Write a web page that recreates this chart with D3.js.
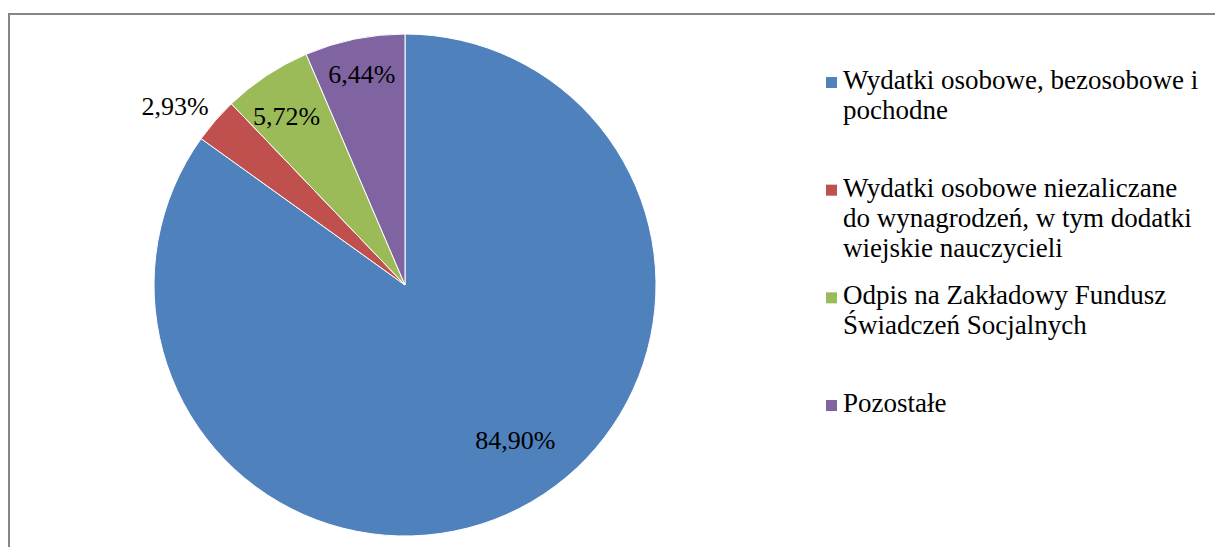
<!DOCTYPE html>
<html>
<head>
<meta charset="utf-8">
<script src="https://cdnjs.cloudflare.com/ajax/libs/d3/7.8.5/d3.min.js"></script>
<style>
  body { margin: 0; background: #fff; }
  svg { display: block; }
</style>
</head>
<body>
<svg width="1215" height="547"></svg>
<script>
// chart data
let categories = [
  ["Wydatki osobowe, bezosobowe i", "pochodne"],
  ["Wydatki osobowe niezaliczane", "do wynagrodzeń, w tym dodatki", "wiejskie nauczycieli"],
  ["Odpis na Zakładowy Fundusz", "Świadczeń Socjalnych"],
  ["Pozostałe"]
];
let values = [84.90, 2.93, 5.72, 6.44];
let labels = ["84,90%", "2,93%", "5,72%", "6,44%"];
let colors = ["#4F81BD", "#C0504D", "#9BBB59", "#8064A2"];

// where each label sits: radius factor and angle shift (radians), like excel's best fit
let labelRadius = [0.76, 1.16, 0.82, 0.857];
let labelShift = [-0.143, -0.054, -0.028, 0];

var svg = d3.select("svg"),
    width = +svg.attr("width"),
    height = +svg.attr("height");

let font = "'Liberation Serif', 'Times New Roman', serif";

// chart frame
svg.append("rect")
    .attr("x", 9)
    .attr("y", 14)
    .attr("width", width)
    .attr("height", height)
    .attr("fill", "none")
    .attr("stroke", "#868686")
    .attr("stroke-width", 2);

let cx = 405, cy = 285, radius = 251;

let pie = d3.pie().sort(null).value(d => d);
let arcs = pie(values);
let arc = d3.arc().innerRadius(0).outerRadius(radius);

let g = svg.append("g").attr("transform", "translate(" + cx + "," + cy + ")");

g.selectAll("path")
    .data(arcs)
    .enter().append("path")
    .attr("d", arc)
    .attr("fill", (d, i) => colors[i])
    .attr("stroke", "#fff")
    .attr("stroke-width", 1);

// percentage labels
g.selectAll("text")
    .data(arcs)
    .enter().append("text")
    .attr("x", (d, i) => {
      let a = (d.startAngle + d.endAngle) / 2 + labelShift[i];
      return Math.sin(a) * radius * labelRadius[i];
    })
    .attr("y", (d, i) => {
      let a = (d.startAngle + d.endAngle) / 2 + labelShift[i];
      return -Math.cos(a) * radius * labelRadius[i];
    })
    .attr("dy", "0.33em")
    .attr("text-anchor", "middle")
    .style("font-family", font)
    .style("font-size", "26px")
    .attr("fill", "#000")
    .text((d, i) => labels[i]);

// legend
let legendY = d3.scaleLinear().domain([0, 3]).range([89, 412]);

let legend = svg.append("g")
    .selectAll("g")
    .data(categories)
    .enter().append("g")
    .attr("transform", (d, i) => "translate(826," + legendY(i) + ")");

legend.append("rect")
    .attr("x", 0)
    .attr("y", -12)
    .attr("width", 11)
    .attr("height", 11)
    .attr("fill", (d, i) => colors[i]);

legend.append("text")
    .style("font-family", font)
    .style("font-size", "27px")
    .attr("fill", "#000")
    .selectAll("tspan")
    .data(d => d)
    .enter().append("tspan")
    .attr("x", 17)
    .attr("y", (d, j) => j * 30)
    .text(d => d);
</script>
</body>
</html>
